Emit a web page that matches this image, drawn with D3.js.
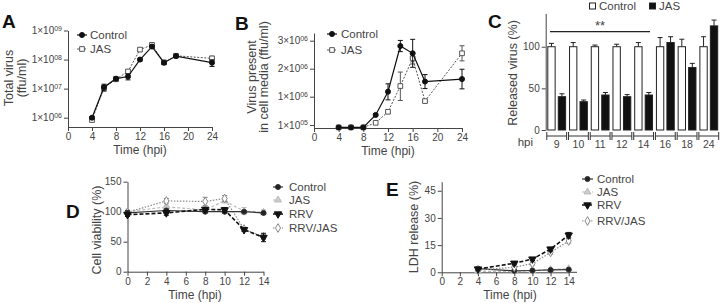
<!DOCTYPE html>
<html>
<head>
<meta charset="utf-8">
<script src="https://cdn.jsdelivr.net/npm/d3@7"></script>
<style>
body { margin: 0; background: #fff; }
svg text { font-family: Arial, "Liberation Sans", sans-serif; fill: #444; }
</style>
</head>
<body>
<div id="container"></div>
<script>
// ---- data ----
// A: total virus (ffu/ml)
var timeA = [4, 6, 8, 10, 12, 14, 16, 18, 24];
var totalControl = [1.0e6, 1.12e7, 2.2e7, 2.6e7, 1.0e8, 2.8e8, 7.8e7, 1.32e8, 7.8e7];
var totalControlErr = [1e5, 3e6, 3e6, 6e6, 1e7, 3e7, 1e7, 1e7, 2e7];
var totalJAS = [8.3e5, 1.07e7, 2.1e7, 3.9e7, 2.2e8, 3.2e8, 8.0e7, 1.35e8, 1.1e8];
var totalJASErr = [1e5, 2e6, 3e6, 5e6, 3e7, 3e7, 1e7, 1e7, 2e7];
var ticksA = [1e6, 1e7, 1e8, 1e9];

// B: virus present in cell media (ffu/ml)
var mediaControl = [2e4, 2e4, 2e4, 4.2e5, 1.18e6, 2.81e6, 2.55e6, 1.54e6, 1.63e6];
var mediaControlErr = [0, 0, 0, 3e4, 2.8e5, 2.0e5, 5.0e5, 2.5e5, 3.5e5];
var mediaJAS = [2e4, 2e4, 2e4, 1.7e5, 5.2e5, 1.38e6, 2.37e6, 8.6e5, 2.55e6];
var mediaJASErr = [0, 0, 0, 0, 3e4, 5.0e5, 2.0e5, 3e4, 2.7e5];
var ticksB = [1e5, 1e6, 2e6, 3e6];

// C: released virus (%)
var hpiC = ["9", "10", "11", "12", "14", "16", "18", "24"];
var releasedControl = [100, 100, 100, 100, 100, 100, 100, 100];
var releasedControlErr = [4, 5, 2, 3, 5, 11, 9, 12];
var releasedJAS = [40, 34, 42, 40, 42, 105, 75, 125];
var releasedJASErr = [3.5, 2, 3, 2.5, 3, 7, 5, 7];

// D: cell viability (%)
var timeD = [0, 4, 8, 10, 12, 14];
var viabControl = [98, 102, 100, 100, 100, 98];
var viabControlErr = [4, 2, 2, 2, 2, 2];
var viabJAS = [100, 108, 103, 118, 101, 99];
var viabJASErr = [3, 3, 3, 3, 6, 4];
var viabRRV = [95, 98, 104, 103, 70, 57];
var viabRRVErr = [3, 4, 3, 4, 3, 7];
var viabRRVJAS = [99, 118, 117, 122, 71, 58];
var viabRRVJASErr = [3, 4, 7, 5, 3, 4];

// E: LDH release (%)
var timeE = [4, 8, 10, 12, 14];
var ldhControl = [2, 0.8, 1, 1.3, 1.5];
var ldhJAS = [0.5, 0.5, 1, 1.5, 2];
var ldhRRV = [1.8, 5, 7.3, 12.8, 20.5];
var ldhRRVErr = [0.5, 0.8, 0.8, 1, 1.5];
var ldhRRVJAS = [1.2, 2.8, 4.8, 11, 17.3];
var ldhRRVJASErr = [0.5, 0.6, 0.8, 1, 1.2];

var svg = d3.select("#container")
  .append("svg")
    .attr("width", 720)
    .attr("height", 303);

// line styles
var stControl = {color: "#111", fill: "#111", dash: null, symbol: d3.symbolCircle, size: 20, width: 1.2};
var stJASsq = {color: "#555", fill: "#fff", dash: "2,1.5", symbol: d3.symbolSquare, size: 22, width: 1};
var stCtrlD = {color: "#333", fill: "#222", dash: null, symbol: d3.symbolCircle, size: 20, width: 1.2};
var stJASD = {color: "#bbb", fill: "#ccc", dash: "3,2", symbol: d3.symbolTriangle, size: 20, width: 1.2};
var stRRV = {color: "#111", fill: "#111", dash: "4,2", symbol: d3.symbolTriangle, size: 24, width: 1.6, flip: true};
var stRRVJAS = {color: "#888", fill: "#fff", dash: "1.5,1.5", symbol: d3.symbolDiamond, size: 22, width: 1.2};

function styleAxis(g) {
  g.selectAll("path, line").attr("stroke", "#444").attr("stroke-width", 1);
  g.selectAll("text").style("font-size", "10px").attr("fill", "#444");
}

// "1x10" with a small superscript exponent
function sciLabels(g) {
  g.selectAll(".tick text").each(function(d) {
    var e = Math.floor(Math.log10(d) + 1e-9);
    var m = Math.round(d / Math.pow(10, e));
    var t = d3.select(this).text(null);
    t.append("tspan").text(m + "\u00d710");
    t.append("tspan").attr("dy", "-0.5em").style("font-size", "7px").text((e < 10 ? "0" : "") + e);
  });
}

function drawSeries(g, x, y, xs, ys, errs, st) {
  var pts = xs.map(function(t, i) { return {t: t, v: ys[i], e: errs ? errs[i] : 0}; });
  g.append("path")
    .datum(pts)
    .attr("d", d3.line().x(d => x(d.t)).y(d => y(d.v)))
    .attr("fill", "none")
    .attr("stroke", st.color)
    .attr("stroke-width", st.width)
    .attr("stroke-dasharray", st.dash);
  var eb = g.append("g").attr("stroke", st.color).attr("stroke-width", 1)
    .selectAll("g").data(pts.filter(d => d.e > 0)).enter().append("g");
  eb.append("line")
    .attr("x1", d => x(d.t)).attr("x2", d => x(d.t))
    .attr("y1", d => y(d.v - d.e)).attr("y2", d => y(d.v + d.e));
  eb.append("line")
    .attr("x1", d => x(d.t) - 2.5).attr("x2", d => x(d.t) + 2.5)
    .attr("y1", d => y(d.v + d.e)).attr("y2", d => y(d.v + d.e));
  eb.append("line")
    .attr("x1", d => x(d.t) - 2.5).attr("x2", d => x(d.t) + 2.5)
    .attr("y1", d => y(d.v - d.e)).attr("y2", d => y(d.v - d.e));
  g.append("g").selectAll("path").data(pts).enter().append("path")
    .attr("transform", d => "translate(" + x(d.t) + "," + y(d.v) + ")" + (st.flip ? " rotate(180)" : ""))
    .attr("d", d3.symbol().type(st.symbol).size(st.size))
    .attr("fill", st.fill)
    .attr("stroke", st.color)
    .attr("stroke-width", 1);
}

function drawLegend(g, x0, x1, xt, ys, names, styles) {
  names.forEach(function(n, i) {
    var st = styles[i];
    g.append("line")
      .attr("x1", x0).attr("x2", x1).attr("y1", ys[i]).attr("y2", ys[i])
      .attr("stroke", st.color).attr("stroke-width", st.width).attr("stroke-dasharray", st.dash);
    g.append("path")
      .attr("transform", "translate(" + (x0 + x1) / 2 + "," + ys[i] + ")" + (st.flip ? " rotate(180)" : ""))
      .attr("d", d3.symbol().type(st.symbol).size(st.size))
      .attr("fill", st.fill).attr("stroke", st.color);
    g.append("text")
      .attr("x", xt).attr("y", ys[i]).attr("dy", "0.36em")
      .style("font-size", "11.5px")
      .text(n);
  });
}

function panelLetter(x, y, s) {
  svg.append("text").attr("x", x).attr("y", y)
    .style("font-size", "19px").style("font-weight", "bold").style("fill", "#111")
    .text(s);
}

function yTitle(x, y, s) {
  svg.append("text")
    .attr("transform", "translate(" + x + "," + y + ") rotate(-90)")
    .attr("text-anchor", "middle")
    .style("font-size", "12.5px")
    .text(s);
}

function xTitle(x, y, s) {
  svg.append("text").attr("x", x).attr("y", y)
    .attr("text-anchor", "middle")
    .style("font-size", "12px")
    .text(s);
}

// ---------- Panel A ----------
var xA = d3.scaleLinear().domain([0, 24]).range([68, 212]);
var yA = d3.scaleLog().domain([Math.pow(10, 5.68), 1e9]).range([127, 30.5]);
svg.append("g")
  .attr("transform", "translate(0,127)")
  .call(d3.axisBottom(xA).tickValues([0, 4, 8, 12, 16, 20, 24]).tickSize(4).tickPadding(2).tickSizeOuter(0))
  .call(styleAxis);
svg.append("g")
  .attr("transform", "translate(68,0)")
  .call(d3.axisLeft(yA).tickValues(ticksA).tickSize(4).tickPadding(2).tickSizeOuter(0))
  .call(styleAxis)
  .call(sciLabels);
var gA = svg.append("g");
drawSeries(gA, xA, yA, timeA, totalJAS, totalJASErr, stJASsq);
drawSeries(gA, xA, yA, timeA, totalControl, totalControlErr, stControl);
drawLegend(svg, 77, 87, 90, [35, 49], ["Control", "JAS"], [stControl, stJASsq]);
panelLetter(2, 28, "A");
yTitle(13, 78, "Total virus");
yTitle(26, 78, "(ffu/ml)");
xTitle(140, 154, "Time (hpi)");

// ---------- Panel B ----------
var xB = d3.scaleLinear().domain([0, 24]).range([314, 462]);
var yB = d3.scaleLinear().domain([0, 1e5, 1e6, 3e6, 3.28e6]).range([128, 125, 96.7, 40.7, 33]);
svg.append("g")
  .attr("transform", "translate(0,128)")
  .call(d3.axisBottom(xB).tickValues([0, 4, 8, 12, 16, 20, 24]).tickSize(4).tickPadding(2).tickSizeOuter(0))
  .call(styleAxis);
svg.append("g")
  .attr("transform", "translate(314,0)")
  .call(d3.axisLeft(yB).tickValues(ticksB).tickSize(4).tickPadding(2).tickSizeOuter(0))
  .call(styleAxis)
  .call(sciLabels);
var gB = svg.append("g");
drawSeries(gB, xB, yB, timeA, mediaJAS, mediaJASErr, stJASsq);
drawSeries(gB, xB, yB, timeA, mediaControl, mediaControlErr, stControl);
drawLegend(svg, 327, 337, 341, [34, 50], ["Control", "JAS"], [stControl, stJASsq]);
panelLetter(235, 30, "B");
yTitle(256, 77, "Virus present");
yTitle(268, 77, "in cell media (ffu/ml)");
xTitle(388, 155, "Time (hpi)");

// ---------- Panel C ----------
var yC = d3.scaleLinear().domain([0, 140]).range([130, 13.4]);
var xC = d3.scaleBand().domain(hpiC).range([546.5, 719]).paddingInner(0.18).paddingOuter(0.06);
var xSub = d3.scaleBand().domain(["Control", "JAS"]).range([0, xC.bandwidth()]).paddingInner(0.3);
svg.append("g")
  .attr("transform", "translate(545.7,0)")
  .call(d3.axisLeft(yC).tickValues([0, 50, 100]).tickSize(4).tickPadding(2).tickSizeOuter(0))
  .call(styleAxis);

var barData = [];
hpiC.forEach(function(h, i) {
  barData.push({h: h, s: "Control", v: releasedControl[i], e: releasedControlErr[i]});
  barData.push({h: h, s: "JAS", v: releasedJAS[i], e: releasedJASErr[i]});
});
var bars = svg.append("g").selectAll("g").data(barData).enter().append("g");
bars.append("line")
  .attr("x1", d => xC(d.h) + xSub(d.s) + xSub.bandwidth() / 2)
  .attr("x2", d => xC(d.h) + xSub(d.s) + xSub.bandwidth() / 2)
  .attr("y1", d => yC(d.v)).attr("y2", d => yC(d.v + d.e))
  .attr("stroke", "#222");
bars.append("line")
  .attr("x1", d => xC(d.h) + xSub(d.s) + xSub.bandwidth() / 2 - 2.5)
  .attr("x2", d => xC(d.h) + xSub(d.s) + xSub.bandwidth() / 2 + 2.5)
  .attr("y1", d => yC(d.v + d.e)).attr("y2", d => yC(d.v + d.e))
  .attr("stroke", "#222");
bars.append("rect")
  .attr("x", d => xC(d.h) + xSub(d.s))
  .attr("y", d => yC(d.v))
  .attr("width", xSub.bandwidth())
  .attr("height", d => yC(0) - yC(d.v))
  .attr("fill", d => d.s === "JAS" ? "#111" : "#fff")
  .attr("stroke", "#222")
  .attr("stroke-width", 1);

// group brackets under the bars
var br = svg.append("g").selectAll("g").data(hpiC).enter().append("g").attr("stroke", "#333");
br.append("line").attr("x1", d => xC(d) - 1).attr("x2", d => xC(d) + xC.bandwidth() + 1)
  .attr("y1", 136).attr("y2", 136);
br.append("line").attr("x1", d => xC(d) - 1).attr("x2", d => xC(d) - 1).attr("y1", 132).attr("y2", 140);
br.append("line").attr("x1", d => xC(d) + xC.bandwidth() + 1).attr("x2", d => xC(d) + xC.bandwidth() + 1)
  .attr("y1", 132).attr("y2", 140);
svg.append("g").selectAll("text").data(hpiC).enter().append("text")
  .attr("x", d => xC(d) + xC.bandwidth() / 2)
  .attr("y", 148)
  .attr("text-anchor", "middle")
  .style("font-size", "10.5px")
  .text(d => d);
svg.append("text").attr("x", 533).attr("y", 146).attr("text-anchor", "end")
  .style("font-size", "11.5px").text("hpi");

// significance bar
svg.append("line").attr("x1", 550).attr("x2", 650).attr("y1", 31.7).attr("y2", 31.7)
  .attr("stroke", "#222").attr("stroke-width", 1.2);
svg.append("text").attr("x", 600).attr("y", 30).attr("text-anchor", "middle")
  .style("font-size", "13px").text("**");

// legend C
svg.append("rect").attr("x", 589.5).attr("y", 3).attr("width", 6).attr("height", 6)
  .attr("fill", "#fff").attr("stroke", "#222");
svg.append("text").attr("x", 599).attr("y", 6).attr("dy", "0.36em").style("font-size", "11.5px").text("Control");
svg.append("rect").attr("x", 649.5).attr("y", 3).attr("width", 6).attr("height", 6)
  .attr("fill", "#111").attr("stroke", "#222");
svg.append("text").attr("x", 659).attr("y", 6).attr("dy", "0.36em").style("font-size", "11.5px").text("JAS");
panelLetter(488, 28, "C");
yTitle(517, 73, "Released virus (%)");

// ---------- Panel D ----------
var xD = d3.scaleLinear().domain([0, 14]).range([127.5, 263.5]);
var yD = d3.scaleLinear().domain([0, 150]).range([271.7, 181.7]);
svg.append("g")
  .attr("transform", "translate(0,271.7)")
  .call(d3.axisBottom(xD).tickValues([0, 2, 4, 6, 8, 10, 12, 14]).tickSize(4).tickPadding(2).tickSizeOuter(0))
  .call(styleAxis);
svg.append("g")
  .attr("transform", "translate(127.5,0)")
  .call(d3.axisLeft(yD).tickValues([0, 50, 100, 150]).tickSize(4).tickPadding(2).tickSizeOuter(0))
  .call(styleAxis);
var gD = svg.append("g");
drawSeries(gD, xD, yD, timeD, viabJAS, viabJASErr, stJASD);
drawSeries(gD, xD, yD, timeD, viabRRVJAS, viabRRVJASErr, stRRVJAS);
drawSeries(gD, xD, yD, timeD, viabControl, viabControlErr, stCtrlD);
drawSeries(gD, xD, yD, timeD, viabRRV, viabRRVErr, stRRV);
drawLegend(svg, 273, 283, 289, [187, 200, 214, 228],
  ["Control", "JAS", "RRV", "RRV/JAS"], [stCtrlD, stJASD, stRRV, stRRVJAS]);
panelLetter(66, 218, "D");
yTitle(101, 230, "Cell viability (%)");
xTitle(195, 299, "Time (hpi)");

// ---------- Panel E ----------
var xE = d3.scaleLinear().domain([0, 14]).range([441.7, 568.7]);
var yE = d3.scaleLinear().domain([0, 50]).range([272.3, 181.7]);
svg.append("g")
  .attr("transform", "translate(0,272.3)")
  .call(d3.axisBottom(xE).tickValues([0, 2, 4, 6, 8, 10, 12, 14]).tickSize(4).tickPadding(2).tickSizeOuter(0))
  .call(styleAxis);
svg.append("line").attr("x1", 568.7).attr("x2", 577).attr("y1", 272.3).attr("y2", 272.3)
  .attr("stroke", "#444");
svg.append("g")
  .attr("transform", "translate(441.7,0)")
  .call(d3.axisLeft(yE).tickValues([0, 15, 30, 45]).tickSize(4).tickPadding(2).tickSizeOuter(0))
  .call(styleAxis);
var gE = svg.append("g");
drawSeries(gE, xE, yE, timeE, ldhJAS, null, stJASD);
drawSeries(gE, xE, yE, timeE, ldhControl, null, stCtrlD);
drawSeries(gE, xE, yE, timeE, ldhRRVJAS, ldhRRVJASErr, stRRVJAS);
drawSeries(gE, xE, yE, timeE, ldhRRV, ldhRRVErr, stRRV);
drawLegend(svg, 582, 593, 597, [179, 192, 205, 221],
  ["Control", "JAS", "RRV", "RRV/JAS"], [stCtrlD, stJASD, stRRV, stRRVJAS]);
panelLetter(386, 196, "E");
yTitle(418, 227, "LDH release (%)");
xTitle(510, 299, "Time (hpi)");
</script>
</body>
</html>
